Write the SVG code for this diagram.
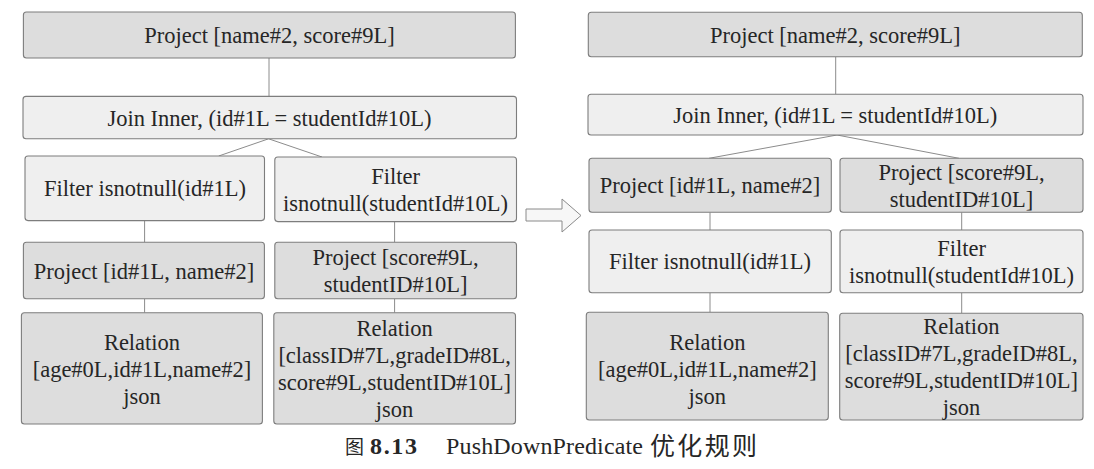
<svg xmlns="http://www.w3.org/2000/svg" width="1094" height="469" viewBox="0 0 1094 469">
<style>
rect.g{fill:#dddddd;stroke:#7d7d7d;stroke-width:1.1}
rect.l{fill:#efefef;stroke:#7d7d7d;stroke-width:1.1}
text{font-family:"Liberation Serif","Times New Roman",serif;font-size:22.5px;fill:#262626;text-anchor:middle}
#connectors line{stroke:#8c8c8c;stroke-width:1}
</style>
<rect width="1094" height="469" fill="#ffffff"/>
<g id="connectors">
<line x1="269" y1="58" x2="269" y2="96.4"/>
<line x1="268.6" y1="138.8" x2="218.7" y2="156"/>
<line x1="268.6" y1="138.8" x2="322" y2="157"/>
<line x1="144.6" y1="220.6" x2="144.6" y2="242.3"/>
<line x1="394.6" y1="221.6" x2="394.6" y2="242.3"/>
<line x1="144.6" y1="298.8" x2="144.6" y2="312.7"/>
<line x1="394.6" y1="298.8" x2="394.6" y2="312.7"/>
<line x1="835.7" y1="56.7" x2="835.7" y2="94.3"/>
<line x1="837" y1="135" x2="709" y2="158.3"/>
<line x1="837" y1="135" x2="959" y2="158.3"/>
<line x1="710" y1="212.3" x2="710" y2="230"/>
<line x1="961.7" y1="212.3" x2="961.7" y2="230"/>
<line x1="710" y1="292.7" x2="710" y2="312.3"/>
<line x1="961.7" y1="292.7" x2="961.7" y2="313.3"/>
</g>
<g id="transform-arrow">
<polygon points="526,209 562,209 562,199 581,215.5 562,232 562,221 526,221" fill="#f7f7f7" stroke="#8a8a8a" stroke-width="1"/>
</g>
<g id="L_top"><rect class="g" x="23.4" y="12" width="492" height="46" rx="3"/><text x="269.5" y="43">Project [name#2, score#9L]</text></g>
<g id="L_join"><rect class="l" x="23" y="96.4" width="493.5" height="42.4" rx="3"/><text x="269.5" y="125.5">Join Inner, (id#1L = studentId#10L)</text></g>
<g id="L_filter1"><rect class="l" x="25" y="156" width="239.5" height="64.6" rx="3"/><text x="145" y="196">Filter isnotnull(id#1L)</text></g>
<g id="L_filter2"><rect class="l" x="274.8" y="157" width="241.7" height="64.6" rx="3"/><text x="395.6" y="183.8">Filter</text><text x="395.6" y="210.8">isnotnull(studentId#10L)</text></g>
<g id="L_proj1"><rect class="g" x="23.4" y="242.3" width="241" height="56.5" rx="3"/><text x="144" y="278.5">Project [id#1L, name#2]</text></g>
<g id="L_proj2"><rect class="g" x="274.8" y="242.3" width="241.7" height="56.5" rx="3"/><text x="395.6" y="265">Project [score#9L,</text><text x="395.6" y="292">studentID#10L]</text></g>
<g id="L_rel1"><rect class="g" x="21.4" y="312.7" width="241" height="111.3" rx="3"/><text x="142" y="349.5">Relation</text><text x="142" y="376.5">[age#0L,id#1L,name#2]</text><text x="142" y="403.5">json</text></g>
<g id="L_rel2"><rect class="g" x="273.8" y="312.7" width="241.7" height="111.3" rx="3"/><text x="394.6" y="335.8">Relation</text><text x="394.6" y="362.8">[classID#7L,gradeID#8L,</text><text x="394.6" y="389.8">score#9L,studentID#10L]</text><text x="394.6" y="416.8">json</text></g>
<g id="R_top"><rect class="g" x="588.3" y="12.3" width="494" height="44.4" rx="3"/><text x="835.3" y="42.5">Project [name#2, score#9L]</text></g>
<g id="R_join"><rect class="l" x="588" y="94.3" width="495" height="40.7" rx="3"/><text x="835.3" y="122.6">Join Inner, (id#1L = studentId#10L)</text></g>
<g id="R_proj1"><rect class="g" x="589" y="158.3" width="242.3" height="54" rx="3"/><text x="710" y="193.3">Project [id#1L, name#2]</text></g>
<g id="R_proj2"><rect class="g" x="840" y="158.3" width="243" height="54" rx="3"/><text x="961.5" y="179.8">Project [score#9L,</text><text x="961.5" y="206.8">studentID#10L]</text></g>
<g id="R_filter1"><rect class="l" x="589" y="230" width="242.3" height="62.7" rx="3"/><text x="710" y="269.4">Filter isnotnull(id#1L)</text></g>
<g id="R_filter2"><rect class="l" x="840" y="230" width="243" height="62.7" rx="3"/><text x="961.5" y="255.9">Filter</text><text x="961.5" y="282.9">isnotnull(studentId#10L)</text></g>
<g id="R_rel1"><rect class="g" x="586.3" y="312.3" width="242" height="107.7" rx="3"/><text x="707.3" y="350">Relation</text><text x="707.3" y="377">[age#0L,id#1L,name#2]</text><text x="707.3" y="404">json</text></g>
<g id="R_rel2"><rect class="g" x="839.7" y="313.3" width="243.3" height="106.7" rx="3"/><text x="961.4" y="333.7">Relation</text><text x="961.4" y="360.7">[classID#7L,gradeID#8L,</text><text x="961.4" y="387.7">score#9L,studentID#10L]</text><text x="961.4" y="414.7">json</text></g>
<g id="caption">
<text x="345" y="454" style="text-anchor:start;font-family:'Noto Sans CJK SC',sans-serif;font-size:19px">图</text>
<text x="370" y="454" textLength="47" style="text-anchor:start;font-weight:bold;font-size:24px">8.13</text>
<text x="446" y="454" textLength="197" style="text-anchor:start;font-size:24px">PushDownPredicate</text>
<text x="650" y="455" textLength="107" style="text-anchor:start;font-family:'Noto Sans CJK SC',sans-serif;font-size:25px">优化规则</text>
</g>
</svg>
